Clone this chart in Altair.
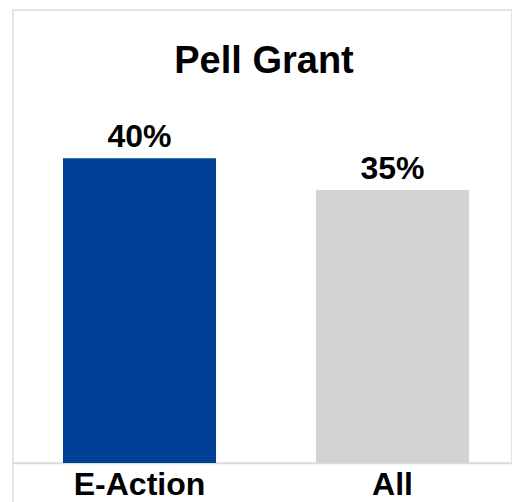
import altair as alt
import pandas as pd

categories = ["E-Action", "All"]
values = [39.55, 35.45]
colors = ["#003f96", "#d3d3d3"]
title_text = "Pell Grant"

df = pd.DataFrame({"cat": categories, "val": values, "color": colors})

W, H = 499, 453
FONT = "Liberation Sans"

x = alt.X("cat:N", sort=categories,
          scale=alt.Scale(range=[0, 506], paddingInner=0.395, paddingOuter=0.1975),
          axis=alt.Axis(title=None, labelAngle=0, ticks=False, domain=True,
                        domainColor="#dcdcdc", domainWidth=1.5,
                        labelFont=FONT, labelFontSize=32, labelFontWeight="bold",
                        labelColor="#000000", labelBaseline="alphabetic",
                        labelPadding=31))
y = alt.Y("val:Q", scale=alt.Scale(domain=[0, 58.8], nice=False, zero=True), axis=None)

bars = alt.Chart(df).mark_bar().encode(
    x=x, y=y, color=alt.Color("color:N", scale=None)
)

pct = alt.Chart(df).transform_calculate(
    lab="format(datum.val, '.0f') + '%'"
).mark_text(
    font=FONT, fontSize=32, fontWeight="bold", color="#000000",
    baseline="alphabetic", dy=-11
).encode(x=x, y=y, text="lab:N")

title = alt.Chart(pd.DataFrame({"t": [title_text]})).mark_text(
    font=FONT, fontSize=38, fontWeight="bold", color="#000000",
    baseline="alphabetic", align="center"
).encode(x=alt.value(251), y=alt.value(63), text="t:N")

edges = alt.Chart(pd.DataFrame({"e": [0]})).mark_rule(
    color="#dcdcdc", strokeWidth=1.5
).encode(x=alt.value(0), y=alt.value(H), y2=alt.value(H + 40))

chart = alt.layer(bars, pct, title, edges).properties(
    width=W, height=H,
    padding={"left": 5, "top": 2, "right": 0, "bottom": 39},
    autosize=alt.AutoSizeParams(type="none"),
).configure_view(stroke="#dcdcdc", strokeWidth=1.5)

chart.save("out.html", embed_options={"renderer": "svg", "actions": False})
